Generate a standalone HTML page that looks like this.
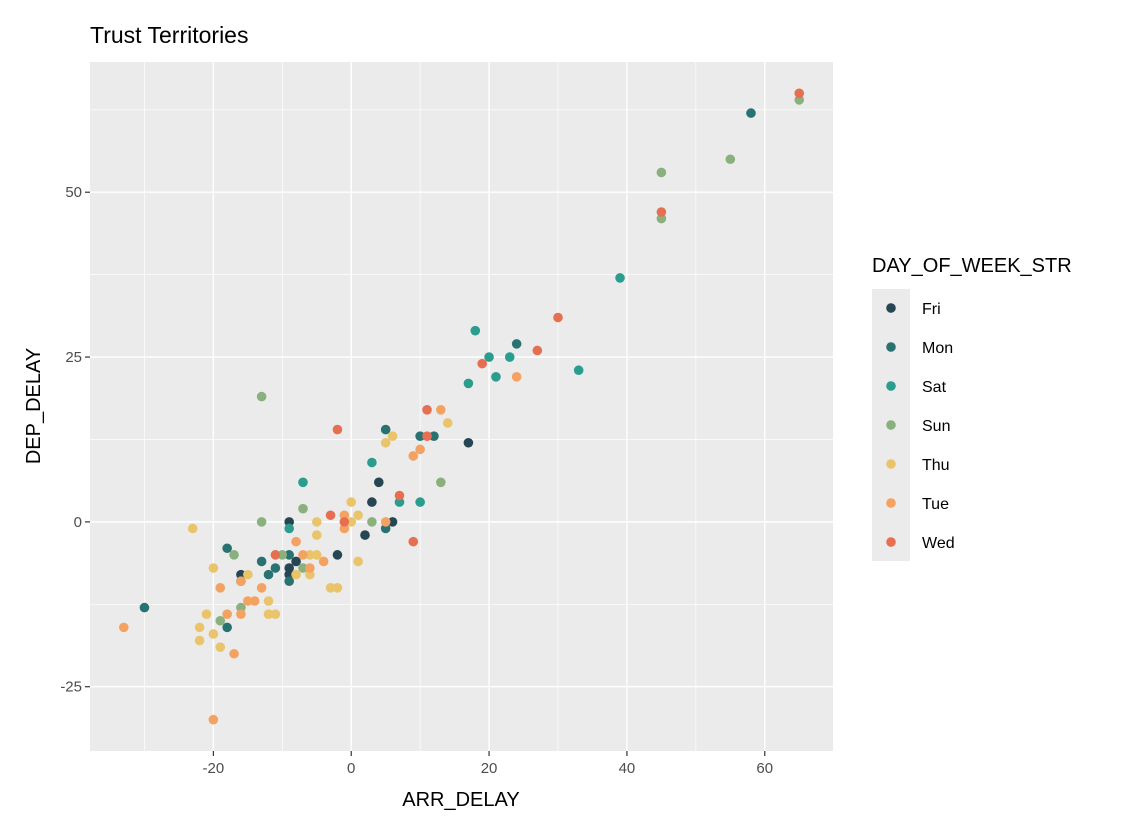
<!DOCTYPE html>
<html><head><meta charset="utf-8"><style>
body{margin:0;background:#fff;font-family:"Liberation Sans",sans-serif}
</style></head><body>
<svg id="chart" width="1148" height="826" xmlns="http://www.w3.org/2000/svg" font-family="Liberation Sans, sans-serif">
<rect width="1148" height="826" fill="#fff"/>
<text x="90" y="43" font-size="23" fill="#000">Trust Territories</text>
<rect x="90" y="62" width="743" height="689" fill="#ebebeb"/>
<g id="grid"></g><g id="ticks"></g><g id="points"></g>
<text x="461" y="806" font-size="20" text-anchor="middle">ARR_DELAY</text>
<text transform="translate(40,406) rotate(-90)" font-size="20" text-anchor="middle">DEP_DELAY</text>
<text x="872" y="272" font-size="20">DAY_OF_WEEK_STR</text>
<rect x="872" y="289" width="38" height="272" fill="#ebebeb"/>
<g id="legend"></g>
</svg>
<script>
const days=["Fri","Mon","Sat","Sun","Thu","Tue","Wed"];
const colors=["#264653","#287271","#2a9d8f","#8ab17d","#e9c46a","#f4a261","#e76f51"];
const xTicks=[-20,0,20,40,60];
const yTicks=[-25,0,25,50];
const xMinor=[-30,-10,10,30,50];
const yMinor=[-12.5,12.5,37.5,62.5];
const friX=[-9,17,4,3,6,2,-2,-16,-9,-8,-9];
const friY=[0,12,6,3,0,-2,-5,-8,-7,-6,-8];
const monX=[58,24,5,10,12,5,-30,-18,-13,-12,-9,-9,-18,-11];
const monY=[62,27,14,13,13,-1,-13,-4,-6,-8,-5,-9,-16,-7];
const satX=[39,18,20,23,21,17,33,3,-7,10,7,-9,-16];
const satY=[37,29,25,25,22,21,23,9,6,3,3,-1,-9];
const sunX=[65,55,45,45,-13,-7,13,3,-13,-17,-19,-16,-7,-10];
const sunY=[64,55,53,46,19,2,6,0,0,-5,-15,-13,-7,-5];
const thuX=[-23,-20,-22,-21,-22,-19,-20,14,6,5,0,1,0,-5,-5,-6,-5,-8,-6,-11,1,-3,-2,-12,-12,-11,-15];
const thuY=[-1,-7,-18,-14,-16,-19,-17,15,13,12,3,1,0,0,-2,-5,-5,-8,-8,-5,-6,-10,-10,-12,-14,-14,-8];
const tueX=[-33,-20,-17,-19,-16,-16,-15,-14,-13,-8,-7,-6,-4,-1,-1,5,9,10,13,24,-18];
const tueY=[-16,-30,-20,-10,-14,-9,-12,-12,-10,-3,-5,-7,-6,-1,1,0,10,11,17,22,-14];
const wedX=[65,45,30,27,19,11,11,-2,7,-3,-1,9,-11];
const wedY=[65,47,31,26,24,17,13,14,4,1,0,-3,-5];
const seriesX=[friX,monX,satX,sunX,thuX,tueX,wedX];
const seriesY=[friY,monY,satY,sunY,thuY,tueY,wedY];
const xMin=-37.9,xMax=69.9,yMin=-34.75,yMax=69.75;
const L=90,R=833,T=62,B=751;
const sx=v=>L+(v-xMin)/(xMax-xMin)*(R-L);
const sy=v=>B-(v-yMin)/(yMax-yMin)*(B-T);
const NS="http://www.w3.org/2000/svg";
function mk(tag,attrs,parent){const e=document.createElementNS(NS,tag);for(const k in attrs)e.setAttribute(k,attrs[k]);parent.appendChild(e);return e;}
const grid=document.getElementById('grid'),ticks=document.getElementById('ticks'),pts=document.getElementById('points'),leg=document.getElementById('legend');
xMinor.forEach(v=>{const l=mk('line',{x1:sx(v),x2:sx(v),y1:T,y2:B,stroke:'#fff','stroke-width':0.7},grid);

});
yMinor.forEach(v=>{const l=mk('line',{x1:L,x2:R,y1:sy(v),y2:sy(v),stroke:'#fff','stroke-width':0.7},grid);

});
xTicks.forEach(v=>{const l=mk('line',{x1:sx(v),x2:sx(v),y1:T,y2:B,stroke:'#fff','stroke-width':1.4},grid);


const t=mk('line',{x1:sx(v),x2:sx(v),y1:B,y2:B+5,stroke:'#333','stroke-width':1.2},ticks);


const tx=mk('text',{x:sx(v),y:B+22,'font-size':15,fill:'#4d4d4d','text-anchor':'middle'},ticks);tx.textContent=v;

});
yTicks.forEach(v=>{const l=mk('line',{x1:L,x2:R,y1:sy(v),y2:sy(v),stroke:'#fff','stroke-width':1.4},grid);


const t=mk('line',{x1:L-5,x2:L,y1:sy(v),y2:sy(v),stroke:'#333','stroke-width':1.2},ticks);


const tx=mk('text',{x:L-8,y:sy(v)+5,'font-size':15,fill:'#4d4d4d','text-anchor':'end'},ticks);tx.textContent=v;

});
days.forEach((d,i)=>{seriesX[i].forEach((x,j)=>{const c=mk('circle',{cx:sx(x),cy:sy(seriesY[i][j]),r:4.8,fill:colors[i]},pts);

});
const y=308+i*39;
const k=mk('circle',{cx:891,cy:y,r:4.8,fill:colors[i]},leg);


const t=mk('text',{x:922,y:y+6,'font-size':16,fill:'#000'},leg);t.textContent=d;

});
</script>
</body></html>
